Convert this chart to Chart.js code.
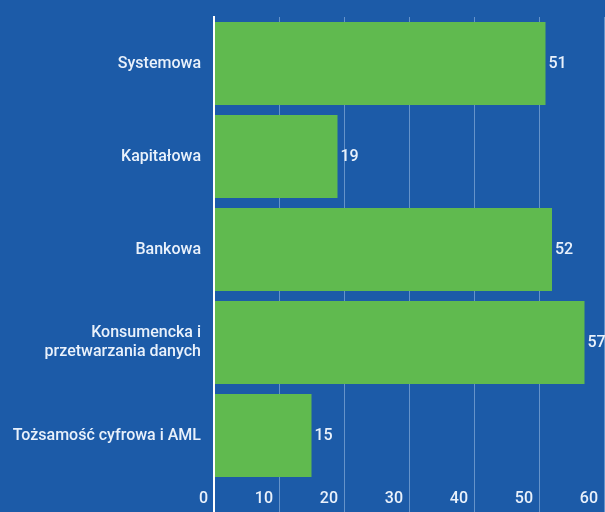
<!DOCTYPE html>
<html>
<head>
<meta charset="utf-8">
<script src="https://cdn.jsdelivr.net/npm/chart.js@4"></script>
<style>
  html, body { margin: 0; padding: 0; background: #1c5ba8; }
  #wrap { width: 605px; height: 512px; }
</style>
</head>
<body>
<div id="wrap"><canvas id="bar-graph"></canvas></div>
<script>
const categories = [
  'Systemowa',
  'Kapitałowa',
  'Bankowa',
  ['Konsumencka i', 'przetwarzania danych'],
  'Tożsamość cyfrowa i AML'
];
const counts = [51, 19, 52, 57, 15];
const xTicks = [0, 10, 20, 30, 40, 50, 60];

const textColor = '#e9f1fb';

// numbers at the end of each bar
const valueLabels = {
  id: 'valueLabels',
  afterDatasetsDraw(chart) {
    const ctx = chart.ctx;
    const meta = chart.getDatasetMeta(0);
    ctx.save();
    ctx.font = '500 16px Roboto';
    ctx.fillStyle = textColor;
    ctx.textAlign = 'left';
    ctx.textBaseline = 'middle';
    meta.data.forEach((bar, i) => {
      ctx.fillText(String(counts[i]), bar.x + 3, bar.y);
    });
    ctx.restore();
  }
};

function bargraph() {
  const ctx = document.getElementById('bar-graph');
  new Chart(ctx, {
    type: 'bar',
    data: {
      labels: categories,
      datasets: [{
        label: 'Liczba',
        data: counts,
        backgroundColor: '#60ba4f',
        borderWidth: 0,
        barPercentage: 0.892,
        categoryPercentage: 1
      }]
    },
    options: {
      indexAxis: 'y',
      responsive: true,
      maintainAspectRatio: false,
      animation: false,
      layout: { padding: { top: 17, right: 1, left: 0, bottom: 0 } },
      plugins: {
        legend: { display: false },
        tooltip: { enabled: false }
      },
      scales: {
        x: {
          min: 0,
          max: 60,
          afterBuildTicks(scale) {
            scale.ticks = xTicks.map(v => ({ value: v }));
          },
          afterFit(scale) {
            scale.height = 30;
            scale.paddingLeft = 0;
            scale.paddingRight = 0;
          },
          border: { display: false },
          grid: {
            color: c => c.tick && c.tick.value === 0 ? '#ffffff' : 'rgba(190,215,245,0.45)',
            lineWidth: c => c.tick && c.tick.value === 0 ? 2 : 1,
            tickLength: 30,
            drawTicks: true
          },
          ticks: {
            color: textColor,
            font: { family: 'Roboto', size: 16, weight: '500' },
            align: 'end',
            labelOffset: -6,
            padding: -23,
            maxRotation: 0
          }
        },
        y: {
          afterFit(scale) {
            scale.width = 214;
            scale.paddingTop = 0;
            scale.paddingBottom = 0;
          },
          border: { color: '#ffffff', width: 2 },
          grid: { display: false, drawTicks: false },
          ticks: {
            color: textColor,
            font: { family: 'Roboto', size: 16, weight: '500' },
            padding: 13
          }
        }
      }
    },
    plugins: [valueLabels]
  });
}

bargraph();
</script>
</body>
</html>
